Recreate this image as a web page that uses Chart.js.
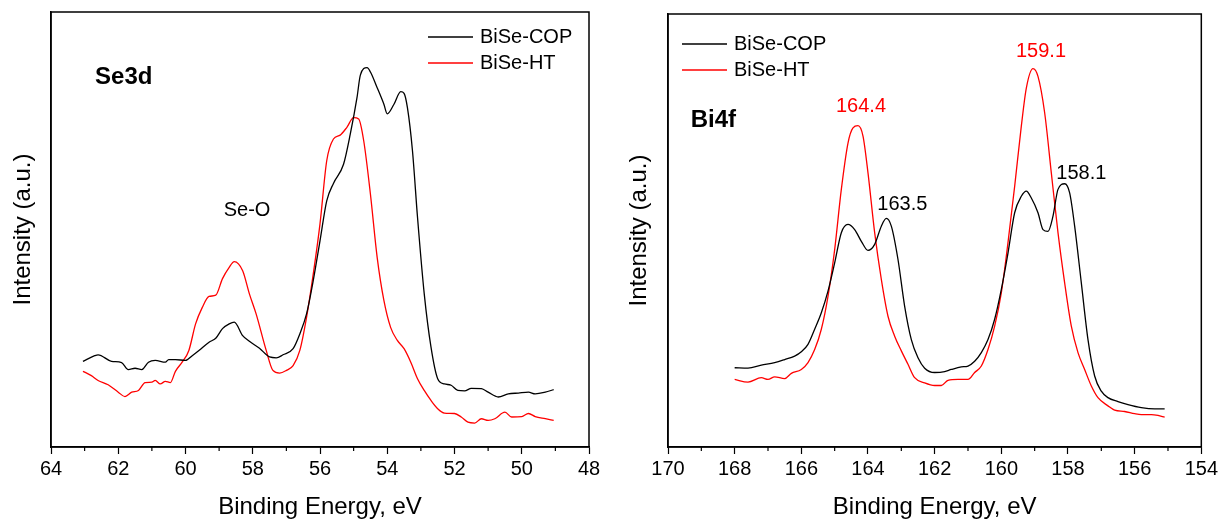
<!DOCTYPE html>
<html>
<head>
<meta charset="utf-8">
<script src="https://cdn.jsdelivr.net/npm/chart.js@4"></script>
<style>
  body { margin: 0; background: #fff; }
  #wrap { position: relative; width: 1221px; height: 522px; }
  canvas { position: absolute; top: 0; }
</style>
</head>
<body>
<div id="wrap">
  <canvas id="se3d" width="610" height="522" style="left:0"></canvas>
  <canvas id="bi4f" width="611" height="522" style="left:610px"></canvas>
</div>
<script>
// Se3d panel
const se3dCopE = [63.05,62.7,62.6,62.2,61.9,61.7,61.5,61.3,61.1,60.9,60.6,60.5,60.3,60.0,59.8,59.6,59.3,59.1,58.9,58.7,58.55,58.3,58.1,57.8,57.5,57.3,57.1,56.8,56.6,56.4,56.2,56.0,55.8,55.6,55.3,55.1,54.9,54.8,54.6,54.5,54.3,54.1,54.0,53.8,53.6,53.5,53.4,53.25,53.1,52.9,52.7,52.5,52.3,52.1,51.9,51.7,51.5,51.2,51.0,50.7,50.4,50.1,49.8,49.6,49.3,49.05];
const se3dCopI = [19.7,21.0,21.2,19.7,19.4,17.8,18.1,17.8,19.5,19.9,19.5,20.1,20.1,19.9,21.0,22.2,24.1,25.0,27.2,28.3,28.7,25.6,24.3,22.7,20.7,20.5,21.2,22.6,26.0,30.6,38.3,47.4,56.6,60.6,65.0,71.9,80.3,85.5,87.2,86.2,82.6,78.8,76.6,78.8,81.7,81.3,78.0,68.1,52.8,35.2,23.0,15.7,14.5,14.2,13.0,12.9,13.5,13.4,12.6,11.5,12.2,12.4,12.6,12.2,12.6,13.2];
const se3dHtE = [63.05,62.8,62.6,62.3,62.0,61.8,61.6,61.4,61.2,61.0,60.9,60.75,60.6,60.45,60.3,60.1,59.9,59.7,59.5,59.3,59.1,58.9,58.7,58.55,58.3,58.1,57.9,57.6,57.4,57.2,57.0,56.8,56.6,56.4,56.2,56.0,55.8,55.6,55.4,55.2,55.0,54.85,54.7,54.5,54.3,54.1,53.9,53.7,53.5,53.3,53.1,52.9,52.7,52.5,52.3,52.0,51.8,51.6,51.4,51.2,51.0,50.8,50.5,50.3,50.0,49.8,49.6,49.3,49.05];
const se3dHtI = [17.4,16.4,15.3,14.3,12.6,11.6,12.6,13.0,14.8,14.9,15.3,14.5,15.1,14.8,17.4,19.5,22.2,28.3,32.1,34.6,34.9,38.7,41.3,42.6,40.5,35.2,30.6,22.2,17.6,17.0,17.6,18.7,22.2,29.8,39.8,51.3,65.8,70.8,71.7,73.5,75.7,75.4,70.4,58.1,43.6,33.7,27.5,24.5,22.6,19.5,15.7,13.0,10.7,8.8,7.8,7.7,6.9,5.7,5.5,6.5,6.1,6.5,8.0,6.9,7.0,7.7,7.0,6.5,6.1];

// Bi4f panel
const bi4fCopE = [168.0,167.6,167.2,166.8,166.5,166.2,166.0,165.8,165.6,165.4,165.2,165.0,164.8,164.6,164.4,164.2,164.0,163.8,163.6,163.45,163.3,163.1,162.9,162.7,162.5,162.3,162.0,161.7,161.5,161.2,161.0,160.8,160.6,160.4,160.2,160.0,159.8,159.6,159.4,159.25,159.1,158.9,158.75,158.6,158.45,158.3,158.1,157.95,157.8,157.6,157.4,157.2,157.0,156.8,156.5,156.2,155.8,155.4,155.1];
const bi4fCopI = [18.3,18.2,18.9,19.5,20.2,21.0,22.0,23.7,27.2,31.0,36.0,42.5,49.5,51.4,50.2,47.5,45.4,46.8,51.0,52.8,51.0,43.3,32.5,24.8,20.6,18.2,17.2,17.4,17.9,18.5,18.7,19.8,21.8,24.8,29.5,36.4,44.8,54.1,57.9,59.1,57.5,54.1,50.2,49.8,53.3,59.5,60.8,58.7,51.0,37.9,24.8,16.4,12.9,11.4,10.5,9.8,9.1,8.8,8.8];
const bi4fHtE = [168.0,167.6,167.2,167.0,166.8,166.5,166.3,166.0,165.8,165.6,165.4,165.2,165.0,164.8,164.6,164.45,164.3,164.15,164.0,163.8,163.6,163.4,163.2,163.0,162.8,162.6,162.3,162.0,161.8,161.6,161.3,161.0,160.8,160.6,160.4,160.2,160.0,159.8,159.6,159.4,159.25,159.05,158.9,158.7,158.5,158.3,158.1,157.9,157.7,157.5,157.3,157.1,156.8,156.6,156.3,156.0,155.8,155.5,155.3,155.1];
const bi4fHtI = [15.6,15.0,16.0,15.6,16.2,15.8,17.0,17.9,19.5,22.5,27.2,34.8,45.6,59.5,70.2,73.7,74.2,71.8,63.3,49.5,38.7,30.2,25.6,22.2,19.1,16.0,14.8,14.2,14.2,15.4,15.6,15.6,17.2,18.7,22.5,27.9,35.6,47.2,60.2,74.1,82.9,87.4,85.6,77.2,63.3,49.5,37.9,27.9,21.8,17.9,14.1,11.4,9.5,8.5,8.2,7.7,7.5,7.5,7.3,6.9];

const seriesNames = ["BiSe-COP", "BiSe-HT"];
const seriesColors = ["#000000", "#ff0000"];

// text labels [text, x (eV), y (a.u.), color, bold, align]
const se3dLabels = [
  ["Se3d", 62.69, 85.0, "#000", true, "left"],
  ["Se-O", 58.17, 54.4, "#000", false, "center"],
];
const bi4fLabels = [
  ["Bi4f", 169.32, 75.4, "#000", true, "left"],
  ["164.4", 164.21, 78.6, "#ff0000", false, "center"],
  ["159.1", 158.81, 91.3, "#ff0000", false, "center"],
  ["163.5", 162.97, 56.0, "#000", false, "center"],
  ["158.1", 157.6, 63.2, "#000", false, "center"],
];

const FONT = "'Liberation Sans', Arial, sans-serif";

function pts(xs, ys) {
  return xs.map((x, i) => ({ x, y: ys[i] }));
}

function overlay(labels, legendAt) {
  return {
    id: "overlay",
    afterDraw(chart) {
      const { ctx, chartArea: a, scales } = chart;
      ctx.save();
      // frame
      ctx.strokeStyle = "#000";
      ctx.lineWidth = 1.5;
      ctx.strokeRect(a.left, a.top, a.right - a.left, a.bottom - a.top);
      // minor x ticks
      ctx.lineWidth = 1.2;
      for (let v = Math.ceil(scales.x.min); v <= scales.x.max; v++) {
        if (v % 2 === 0) continue;
        const px = scales.x.getPixelForValue(v);
        ctx.beginPath();
        ctx.moveTo(px, a.bottom);
        ctx.lineTo(px, a.bottom + 4);
        ctx.stroke();
      }
      // labels
      ctx.textBaseline = "middle";
      labels.forEach(([t, x, y, c, bold, align]) => {
        ctx.fillStyle = c;
        ctx.font = (bold ? "bold 24px " : "20px ") + FONT;
        ctx.textAlign = align;
        ctx.fillText(t, scales.x.getPixelForValue(x), scales.y.getPixelForValue(y));
      });
      // legend
      ctx.textAlign = "left";
      ctx.font = "20px " + FONT;
      seriesNames.forEach((n, i) => {
        const lx = a.left + legendAt[0];
        const ly = a.top + legendAt[1] + i * 26;
        ctx.strokeStyle = seriesColors[i];
        ctx.lineWidth = 1.3;
        ctx.beginPath();
        ctx.moveTo(lx, ly);
        ctx.lineTo(lx + 45, ly);
        ctx.stroke();
        ctx.fillStyle = "#000";
        ctx.fillText(n, lx + 52, ly);
      });
      ctx.restore();
    },
  };
}

function makeChart(canvasId, data, xMin, xMax, yWidth, yTitlePad, pad, labels, legendAt) {
  const ctx = document.getElementById(canvasId).getContext("2d");
  return new Chart(ctx, {
    type: "line",
    data: {
      datasets: data.map((d, i) => ({
        label: seriesNames[i],
        data: d,
        borderColor: seriesColors[i],
        borderWidth: 1.3,
        pointRadius: 0,
        tension: 0.35,
        cubicInterpolationMode: "monotone",
        fill: false,
      })),
    },
    options: {
      responsive: false,
      animation: false,
      layout: { padding: pad },
      plugins: { legend: { display: false }, tooltip: { enabled: false } },
      scales: {
        x: {
          type: "linear",
          reverse: true,
          min: xMin,
          max: xMax,
          afterFit: (s) => { s.height = 75; },
          ticks: { stepSize: 2, autoSkip: false, maxRotation: 0, color: "#000", font: { family: FONT, size: 20 }, padding: 3 },
          grid: { drawOnChartArea: false, drawTicks: true, tickLength: 7, tickColor: "#000", tickWidth: 1.2 },
          border: { color: "#000", width: 1.5 },
          title: { display: true, text: "Binding Energy, eV", color: "#000", font: { family: FONT, size: 24 }, padding: 0 },
        },
        y: {
          min: 0,
          max: 100,
          afterFit: (s) => { s.width = yWidth; },
          ticks: { display: false },
          grid: { display: false },
          border: { color: "#000", width: 1.5 },
          title: { display: true, text: "Intensity (a.u.)", color: "#000", font: { family: FONT, size: 24 }, padding: { top: yTitlePad, bottom: 0 } },
        },
      },
    },
    plugins: [overlay(labels, legendAt)],
  });
}

makeChart("se3d", [pts(se3dCopE, se3dCopI), pts(se3dHtE, se3dHtI)], 48, 64, 51, 9,
  { left: 0, right: 21, top: 12, bottom: 0 }, se3dLabels, [377, 25]);
makeChart("bi4f", [pts(bi4fCopE, bi4fCopI), pts(bi4fHtE, bi4fHtI)], 154, 170, 58, 15,
  { left: 0, right: 11, top: 14, bottom: 0 }, bi4fLabels, [14, 30]);
</script>
</body>
</html>
